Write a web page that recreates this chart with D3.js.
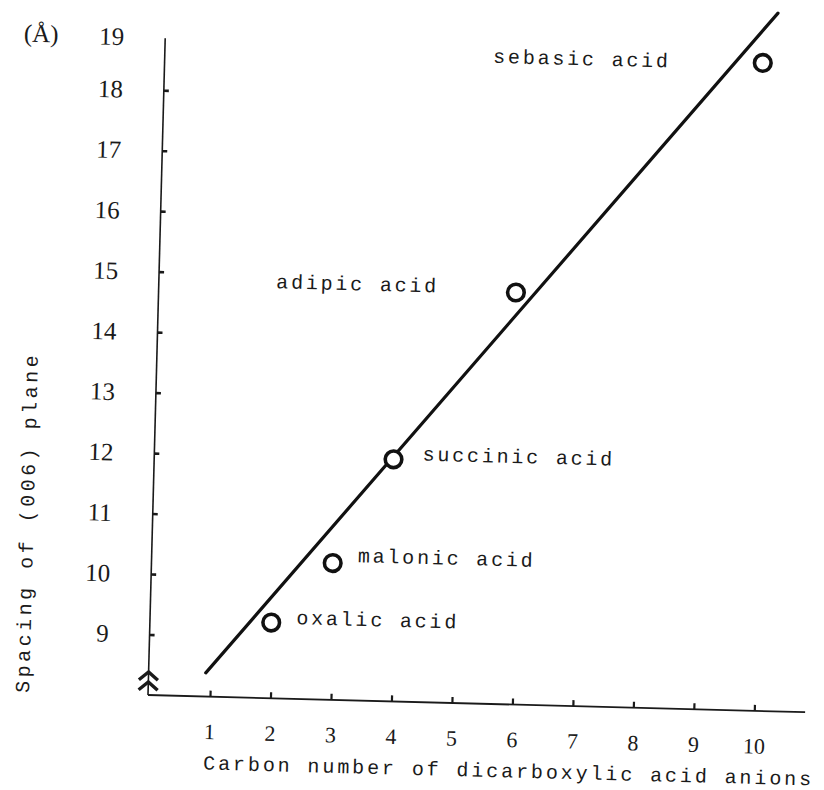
<!DOCTYPE html>
<html>
<head>
<meta charset="utf-8">
<script src="https://cdn.jsdelivr.net/npm/d3@7"></script>
<style>
  html, body { margin: 0; padding: 0; background: #fff; }
  svg { display: block; }
  .mono { font-family: "Liberation Mono", "DejaVu Sans Mono", monospace; fill: #1a1a1a; }
  .serif { font-family: "Liberation Serif", "DejaVu Serif", serif; fill: #1a1a1a; }
</style>
</head>
<body>
<svg id="chart" width="824" height="790"></svg>
<script>
// ---- data ----
const acidNames   = ["oxalic acid", "malonic acid", "succinic acid", "adipic acid", "sebasic acid"];
const acidCarbon  = [1.98, 2.97, 3.93, 5.88, 9.86];      // carbon number, as plotted
const acidSpacing = [9.25, 10.26, 12.0, 14.81, 18.71];    // spacing of (006) plane, Å
const fitCarbon   = [0.92, 10.09];                          // fitted straight line ends
const fitSpacing  = [8.39, 19.54];
const xTicks = [1, 2, 3, 4, 5, 6, 7, 8, 9, 10];
const yTicks = [9, 10, 11, 12, 13, 14, 15, 16, 17, 18, 19];
const xTitle = "Carbon number of dicarboxylic acid anions";
const yTitle = "Spacing of (006) plane";
const yUnit  = "(Å)";

// ---- layout ----
const originX = 148, originY = 695, tilt = 1.5;
const unit = 60.5;
const xMax = 10.84, yTop = 18.86;

const svg = d3.select("#chart");
const g = svg.append("g").attr("transform", `translate(${originX},${originY}) rotate(${tilt})`);

const x = d3.scaleLinear().domain([0, 10]).range([1.5, 1.5 + 10 * unit]);
const y = d3.scaleLinear().domain([8, 19]).range([0, -11 * unit]);

// axis lines
g.append("line").attr("x1", 0).attr("y1", 0).attr("x2", 0).attr("y2", y(yTop))
  .attr("stroke", "#1a1a1a").attr("stroke-width", 1.6);
g.append("line").attr("x1", 0).attr("y1", 0).attr("x2", x(xMax)).attr("y2", 0)
  .attr("stroke", "#1a1a1a").attr("stroke-width", 1.8);

// y axis ticks and labels
const yAxis = d3.axisLeft(y).tickValues(yTicks).tickSizeInner(-5).tickSizeOuter(0).tickPadding(41);
const yg = g.append("g").call(yAxis);
yg.select(".domain").remove();
yg.selectAll(".tick line").attr("stroke", "#1a1a1a").attr("stroke-width", 2.6);
yg.selectAll(".tick").filter(d => d === 19).select("line").remove();
yg.selectAll(".tick").filter(d => d === 19).attr("transform", `translate(0,${y(yTop)})`);
yg.selectAll(".tick text").attr("class", "serif").style("font-size", "25px").attr("fill", "#1a1a1a");

// x axis ticks and labels
const xAxis = d3.axisBottom(x).tickValues(xTicks).tickSizeInner(-6).tickSizeOuter(0).tickPadding(27);
const xg = g.append("g").call(xAxis);
xg.select(".domain").remove();
xg.selectAll(".tick line").attr("stroke", "#1a1a1a").attr("stroke-width", 2.2);
xg.selectAll(".tick text").attr("class", "serif").style("font-size", "22px").attr("fill", "#1a1a1a");

// axis break symbol on y axis
[-23, -13].forEach(off => {
  g.append("path")
    .attr("d", `M-9.5,${off + 8} L0,${off} L9.5,${off + 8}`)
    .attr("fill", "none").attr("stroke", "#1a1a1a").attr("stroke-width", 3.4)
    .attr("stroke-linejoin", "miter");
});

// fitted line
const line = d3.line().x(d => x(d[0])).y(d => y(d[1]));
g.append("path")
  .datum(d3.zip(fitCarbon, fitSpacing))
  .attr("d", line)
  .attr("fill", "none").attr("stroke", "#111").attr("stroke-width", 3.2).attr("stroke-linecap", "round");

// data points
const pts = acidNames.map((n, i) => ({ name: n, c: acidCarbon[i], s: acidSpacing[i] }));
g.selectAll("circle.pt").data(pts).enter().append("circle")
  .attr("class", "pt")
  .attr("cx", d => x(d.c)).attr("cy", d => y(d.s))
  .attr("r", 8.3)
  .attr("fill", "#fff").attr("stroke", "#111").attr("stroke-width", 3.6);

// point labels
const labelLayout = {
  "oxalic acid":   { anchor: "start", dx: 25,  dy: 1 },
  "malonic acid":  { anchor: "start", dx: 25,  dy: -1.5 },
  "succinic acid": { anchor: "start", dx: 29,  dy: 0.5 },
  "adipic acid":   { anchor: "end",   dx: -77, dy: 2 },
  "sebasic acid":  { anchor: "end",   dx: -92, dy: 7 }
};
g.selectAll("text.lab").data(pts).enter().append("text")
  .attr("class", "mono lab")
  .attr("x", d => x(d.c) + labelLayout[d.name].dx)
  .attr("y", d => y(d.s) + labelLayout[d.name].dy)
  .attr("text-anchor", d => labelLayout[d.name].anchor)
  .style("font-size", "20px").style("letter-spacing", "2.8px")
  .text(d => d.name);

// axis titles
g.append("text").attr("class", "mono")
  .attr("x", 57).attr("y", 73)
  .style("font-size", "20px").style("letter-spacing", "2.9px")
  .text(xTitle);

g.append("text").attr("class", "mono")
  .attr("transform", "translate(-119,1) rotate(-90)")
  .attr("text-anchor", "start")
  .style("font-size", "20px").style("letter-spacing", "3.5px")
  .text(yTitle);

g.append("text").attr("class", "serif")
  .attr("x", -124).attr("y", -650)
  .attr("text-anchor", "middle")
  .style("font-size", "25px")
  .text(yUnit);
</script>
</body>
</html>
